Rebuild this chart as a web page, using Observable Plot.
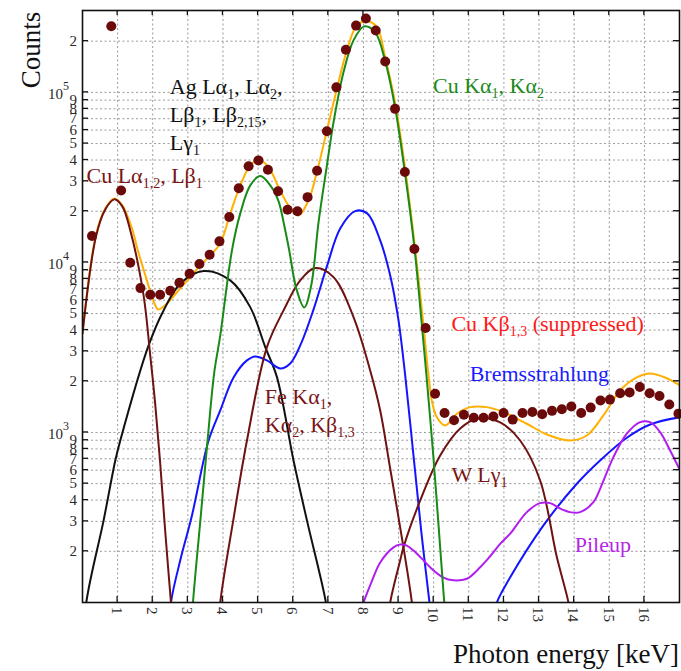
<!DOCTYPE html>
<html><head><meta charset="utf-8">
<script src="https://cdn.jsdelivr.net/npm/d3@7"></script>
<script src="https://cdn.jsdelivr.net/npm/@observablehq/plot@0.6"></script>
<style>body{margin:0;background:#fff} svg{display:block}</style>
</head><body><div id="chart"></div>
<script>
// ---- data (keV, counts) ----
const measured = [[0.27,14300],[0.82,245000],[1.10,26500],[1.36,9960],[1.65,7060],[1.93,6460],[2.21,6460],[2.50,6820],[2.76,7600],[3.05,8570],[3.33,9780],[3.62,11100],[3.90,13300],[4.18,18500],[4.45,27300],[4.73,36800],[5.01,39800],[5.28,35100],[5.57,26200],[5.84,20400],[6.12,20000],[6.41,24200],[6.68,34600],[6.96,59000],[7.23,107000],[7.50,178000],[7.79,247000],[8.07,272000],[8.35,231000],[8.62,152000],[8.90,80000],[9.18,34000],[9.45,12000],[9.77,4110],[10.04,1690],[10.31,1300],[10.58,1180],[10.86,1270],[11.14,1220],[11.42,1220],[11.70,1240],[11.99,1300],[12.25,1190],[12.53,1300],[12.81,1320],[13.09,1280],[13.37,1340],[13.65,1370],[13.92,1420],[14.20,1300],[14.47,1400],[14.75,1540],[15.02,1560],[15.31,1700],[15.58,1720],[15.87,1850],[16.15,1700],[16.43,1640],[16.71,1460],[16.97,1290]];

const totalFit = [[0,3823],[0.393,14810],[0.649,20780],[0.905,23790],[1.133,21640],[1.409,15850],[1.56,12090],[1.816,8052],[2.015,5977],[2.158,5291],[2.405,5739],[2.784,7034],[3.069,8161],[3.354,9603],[3.639,11000],[3.923,12940],[4.208,19420],[4.493,28380],[4.777,37210],[5.013,40190],[5.298,36360],[5.582,27730],[5.867,21640],[6.152,18900],[6.436,23150],[6.675,33980],[6.96,59770],[7.245,105100],[7.529,176600],[7.814,247800],[8.099,261600],[8.383,242200],[8.62,160600],[8.905,86150],[9.18,36710],[9.454,12940],[9.701,4437],[9.844,2254],[9.958,1502],[10.091,1230],[10.328,1100],[10.661,1288],[11.04,1409],[11.514,1409],[11.987,1317],[12.653,1125],[13.223,973],[13.886,897],[14.361,960],[14.833,1259],[15.309,1766],[15.784,2106],[16.163,2224],[16.59,2106],[17.017,1890]];

const cuL = [[0,3823],[0.384,14220],[0.649,20500],[0.905,23480],[1.133,21350],[1.361,15420],[1.739,6396],[1.926,2876],[2.069,1481],[2.211,666],[2.354,265],[2.519,100],[2.613,60]];

const agL = [[0.02,52],[0.108,100],[0.601,304],[0.934,684],[1.076,897],[1.882,3249],[2.309,5220],[2.784,7494],[3.447,8888],[4.207,7836],[4.776,5458],[5.204,3176],[5.537,2115],[6.009,684],[6.391,304],[6.931,100],[7.0,73]];

const cuK = [[3.08,60],[3.146,100],[3.354,300],[3.561,897],[3.752,2254],[3.923,3721],[4.256,11770],[4.493,19420],[4.777,28380],[5.062,32180],[5.347,28380],[5.574,23150],[5.745,16500],[5.887,11770],[6.087,7034],[6.315,5437],[6.513,7323],[6.721,17190],[6.96,37210],[7.148,66600],[7.432,131100],[7.717,202200],[8.022,244400],[8.335,225400],[8.62,152200],[8.905,80530],[9.18,33830],[9.454,12090],[9.701,3525],[9.807,2023],[9.986,742],[10.128,304],[10.279,115],[10.356,73]];

const bremsLow = [[2.45,60],[2.519,100],[2.784,177],[3.117,325],[3.59,897],[3.923,1347],[4.301,2106],[4.683,2653],[4.919,2800],[5.252,2653],[5.631,2379],[5.915,2546],[6.2,3249],[6.57,5220],[6.968,9603],[7.338,15850],[7.765,20040],[8.107,19420],[8.477,13470],[8.762,8385],[8.99,4685],[9.189,2164],[9.425,732],[9.644,265],[9.88,100],[9.957,73]];
const bremsHigh = [[11.694,78],[11.8,100],[12.129,135],[13.126,284],[14.076,499],[14.739,684],[15.5,931],[16.163,1114],[17.017,1230]];

const feK = [[3.85,60],[3.923,100],[4.293,304],[4.683,897],[5.252,3176],[5.725,5220],[6.2,7836],[6.627,9258],[7.148,8194],[7.717,4767],[8.192,2316],[8.477,1347],[8.761,614],[9.14,211],[9.379,100],[9.45,70]];

const wL = [[8.68,70],[8.762,100],[9.047,177],[9.14,211],[9.616,398],[10.185,732],[10.755,1056],[11.267,1209],[11.893,1145],[12.462,897],[13.032,522],[13.507,185],[13.838,100],[13.92,75]];

const pileup = [[7.908,87],[8.002,100],[8.249,135],[8.477,172],[8.856,211],[9.047,219],[9.237,216],[9.425,202],[9.71,177],[9.9,161],[10.279,140],[10.564,135],[10.945,138],[11.324,161],[11.608,187],[11.893,221],[12.178,254],[12.653,340],[13.032,384],[13.316,384],[13.601,357],[13.885,340],[14.17,340],[14.549,389],[14.739,466],[15.118,716],[15.5,983],[15.878,1150],[16.163,1150],[16.448,1004],[16.733,784],[17.017,598]];

const xTicks = d3.range(1, 17);
const yTicks = [];
for (let k = 2; k <= 5; k++) for (let d = 1; d <= 9; d++) { const v = d * 10 ** k; if (v >= 200 && v <= 200000) yTicks.push(v); }

const annotations = [
  {x: 2.5,   y: 96700, color: "#111111", lines: ["Ag Lα{1}, Lα{2},", "Lβ{1}, Lβ{2,15},", "Lγ{1}"]},
  {x: 0.128, y: 29200, color: "#7a1515", lines: ["Cu Lα{1,2}, Lβ{1}"]},
  {x: 9.995, y: 98400, color: "#1b8a1b", lines: ["Cu Kα{1}, Kα{2}"]},
  {x: 10.52, y: 3938,  color: "#ff1a1a", lines: ["Cu Kβ{1,3} (suppressed)"]},
  {x: 11.04, y: 2004,  color: "#1a1aff", lines: ["Bremsstrahlung"]},
  {x: 5.204, y: 1464,  color: "#7a1515", lines: ["Fe Kα{1},", "Kα{2}, Kβ{1,3}"]},
  {x: 10.52, y: 507.6, color: "#7a1515", lines: ["W Lγ{1}"]},
  {x: 14.03, y: 197,   color: "#b526e8", lines: ["Pileup"]}
];

(function () {
  const W = 681, H = 671, mL = 82, mR = 2, mT = 10, mB = 69;
  const FONT = "Liberation Serif, Times New Roman, serif";
  const C = {orange: "#ffb000", maroon: "#6e1212", black: "#111111", green: "#178a17", blue: "#1414ff", purple: "#b01ef0", dot: "#6a0a0a"};
  const curve = (data, color) => Plot.line(data, {x: d => d[0], y: d => d[1], stroke: color, strokeWidth: 2, curve: "catmull-rom", clip: true});

  const plot = Plot.plot({
    width: W, height: H, marginLeft: mL, marginRight: mR, marginTop: mT, marginBottom: mB,
    x: {domain: [0, 17], axis: null},
    y: {type: "log", domain: [100, 303000], axis: null},
    style: {fontFamily: FONT, background: "#fff"},
    marks: [
      Plot.gridX(xTicks, {stroke: "#9a9a9a", strokeOpacity: 1, strokeDasharray: "2,2.5", strokeWidth: 1}),
      Plot.gridY(yTicks, {stroke: "#9a9a9a", strokeOpacity: 1, strokeDasharray: "2,2.5", strokeWidth: 1}),
      curve(totalFit, C.orange),
      curve(agL, C.black),
      curve(bremsLow, C.blue),
      curve(bremsHigh, C.blue),
      curve(feK, C.maroon),
      curve(wL, C.maroon),
      curve(pileup, C.purple),
      curve(cuK, C.green),
      curve(cuL, C.maroon),
      Plot.dot(measured, {x: d => d[0], y: d => d[1], r: 5, fill: C.dot, stroke: "none"}),
      Plot.frame({stroke: "#111", strokeWidth: 1.6})
    ]
  });
  document.getElementById("chart").appendChild(plot);

  const svg = d3.select(plot);
  const xs = plot.scale("x"), ys = plot.scale("y");
  const X = v => xs.apply(v), Y = v => ys.apply(v);
  const pL = mL, pR = W - mR, pT = mT, pB = H - mB;

  // inward ticks on all four sides
  const tg = svg.append("g").attr("stroke", "#111").attr("stroke-width", 1.3);
  xTicks.forEach(v => {
    tg.append("line").attr("x1", X(v)).attr("x2", X(v)).attr("y1", pB).attr("y2", pB - 6);
    tg.append("line").attr("x1", X(v)).attr("x2", X(v)).attr("y1", pT).attr("y2", pT + 5);
  });
  yTicks.forEach(v => {
    tg.append("line").attr("x1", pL).attr("x2", pL + 6).attr("y1", Y(v)).attr("y2", Y(v));
    tg.append("line").attr("x1", pR).attr("x2", pR - 6).attr("y1", Y(v)).attr("y2", Y(v));
  });

  // tick labels
  const lg = svg.append("g").attr("font-family", FONT).attr("fill", "#2a2a2a");
  xTicks.forEach(v => {
    lg.append("text").attr("transform", `translate(${X(v)},${pB + 5}) rotate(90)`)
      .attr("text-anchor", "start").attr("dy", "0.35em").attr("font-size", 15).text(v);
  });
  yTicks.forEach(v => {
    const e = Math.floor(Math.log10(v) + 1e-9);
    const d = Math.round(v / 10 ** e);
    if (d === 1) {
      const t = lg.append("text").attr("x", pL - 13).attr("y", Y(v) + 7).attr("text-anchor", "end").attr("font-size", 15);
      t.append("tspan").text("10");
      t.append("tspan").attr("font-size", 12).attr("dy", -9).text(e);
    } else {
      lg.append("text").attr("x", pL - 5).attr("y", Y(v)).attr("dy", "0.35em").attr("text-anchor", "end").attr("font-size", 15).text(d);
    }
  });

  // axis titles
  svg.append("text").attr("transform", `translate(40,${pT + 40}) rotate(-90)`).attr("text-anchor", "middle")
    .attr("font-family", FONT).attr("font-size", 27).attr("fill", "#111").text("Counts");
  svg.append("text").attr("x", pR).attr("y", H - 8).attr("text-anchor", "end")
    .attr("font-family", FONT).attr("font-size", 27).attr("fill", "#111").text("Photon energy [keV]");

  // annotations with subscripts
  const AFS = 22, SUB = 14, SHIFT = 5, LH = 28;
  annotations.forEach(a => {
    const t = svg.append("text").attr("font-family", FONT).attr("font-size", AFS)
      .attr("fill", a.color).attr("text-anchor", "start");
    a.lines.forEach((ln, i) => {
      const parts = ln.split(/(\{[^}]*\})/).filter(s => s.length);
      let level = 0;
      parts.forEach((p, j) => {
        const ts = t.append("tspan");
        const isSub = p.startsWith("{");
        const target = isSub ? SHIFT : 0;
        if (j === 0) { ts.attr("x", X(a.x)).attr("y", Y(a.y) + i * LH + target); }
        else if (target !== level) ts.attr("dy", target - level);
        level = target;
        if (isSub) ts.attr("font-size", SUB).text(p.slice(1, -1));
        else ts.text(p);
      });
    });
  });
})();
</script></body></html>
